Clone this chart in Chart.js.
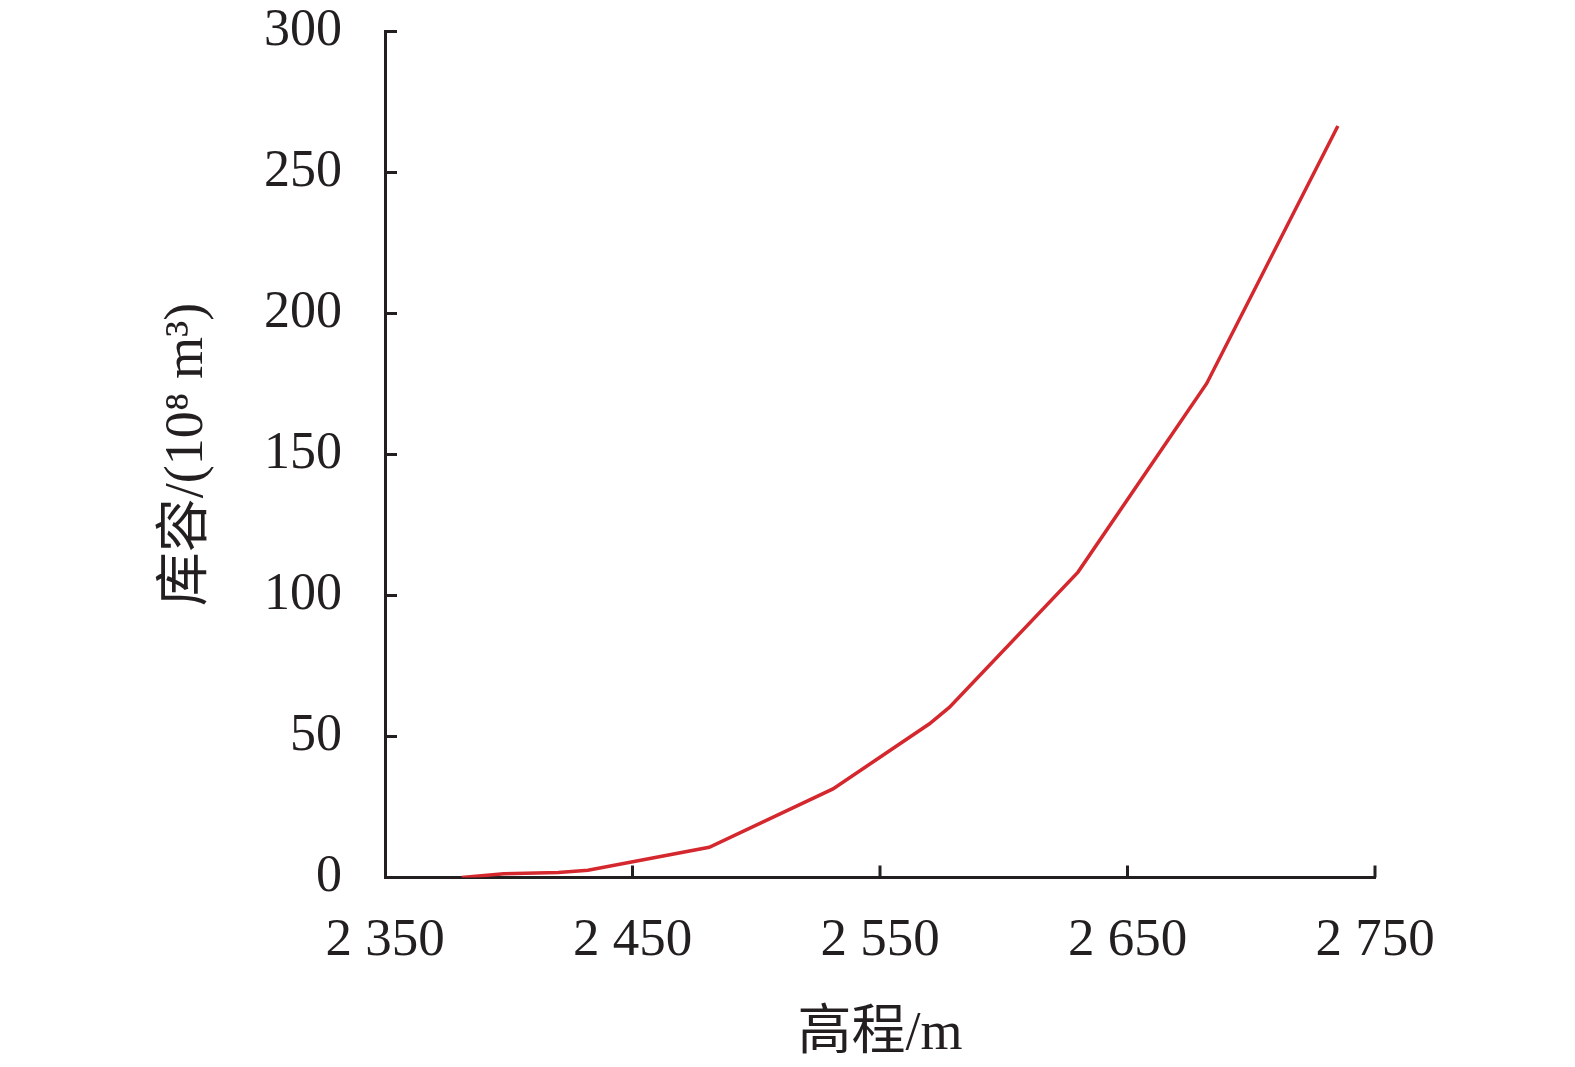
<!DOCTYPE html>
<html lang="zh-CN">
<head>
    <meta charset="UTF-8">
    <title>库容曲线</title>
    <script src="https://cdn.jsdelivr.net/npm/chart.js"></script>
    <style>
        html, body { margin: 0; padding: 0; background: #fff; }
        canvas { display: block; }
    </style>
</head>
<body>
<canvas id="myChart" width="1575" height="1067"></canvas>

<script>
    // 数据：高程 (m) 与 库容 (10^8 m3)
    const elevations = [2381, 2398, 2420, 2432, 2481, 2531, 2570, 2578, 2630, 2682, 2735];
    const capacities = [0, 1.3, 1.8, 2.6, 10.7, 31.4, 54.5, 60.3, 108.3, 175.2, 266.5];

    const xTicks = [2350, 2450, 2550, 2650, 2750];
    const yTicks = [0, 50, 100, 150, 200, 250, 300];

    const xTitle = '高程/m';
    const yTitle = '库容/(10⁸ m³)';

    const inkColor = '#231f20';
    const fontFamily = '"Liberation Serif", "Times New Roman", "Noto Sans CJK SC", serif';

    // 刻度朝内
    const innerTicks = {
        id: 'innerTicks',
        afterDraw(chart) {
            const { ctx, chartArea, scales } = chart;
            ctx.save();
            ctx.strokeStyle = inkColor;
            ctx.lineWidth = 3;
            scales.x.ticks.forEach(t => {
                if (t.value === scales.x.min) return;
                const px = scales.x.getPixelForValue(t.value);
                ctx.beginPath();
                ctx.moveTo(px, chartArea.bottom);
                ctx.lineTo(px, chartArea.bottom - 12);
                ctx.stroke();
            });
            scales.y.ticks.forEach(t => {
                if (t.value === scales.y.min) return;
                const py = scales.y.getPixelForValue(t.value);
                ctx.beginPath();
                ctx.moveTo(chartArea.left, py);
                ctx.lineTo(chartArea.left + 12, py);
                ctx.stroke();
            });
            ctx.restore();
        }
    };

    const points = elevations.map((e, i) => ({ x: e, y: capacities[i] }));

    new Chart(document.getElementById('myChart').getContext('2d'), {
        type: 'line',
        data: {
            datasets: [{
                data: points,
                borderColor: '#d4282e',
                borderWidth: 3.5,
                pointRadius: 0,
                tension: 0,
                fill: false
            }]
        },
        options: {
            responsive: false,
            animation: false,
            layout: { autoPadding: false, padding: { top: 31.5, right: 200, bottom: 0, left: 0 } },
            plugins: { legend: { display: false }, tooltip: { enabled: false } },
            scales: {
                x: {
                    type: 'linear',
                    min: 2350,
                    max: 2750,
                    afterBuildTicks: s => { s.ticks = xTicks.map(v => ({ value: v })); },
                    afterFit: s => { s.height = 189.5; s.paddingLeft = 0; s.paddingRight = 0; },
                    grid: { display: true, drawOnChartArea: false, drawTicks: false },
                    border: { display: true, color: inkColor, width: 3 },
                    ticks: {
                        padding: 32,
                        color: inkColor,
                        font: { family: fontFamily, size: 53 },
                        callback: v => String(v).replace(/\B(?=(\d{3})+(?!\d))/g, ' ')
                    },
                    title: {
                        display: true,
                        text: xTitle,
                        color: inkColor,
                        font: { family: fontFamily, size: 54, lineHeight: 1 },
                        padding: { top: 0, bottom: 5 }
                    }
                },
                y: {
                    min: 0,
                    max: 300,
                    afterBuildTicks: s => { s.ticks = yTicks.map(v => ({ value: v })); },
                    afterFit: s => { s.width = 385; s.paddingTop = 0; s.paddingBottom = 0; },
                    grid: { display: true, drawOnChartArea: false, drawTicks: false },
                    border: { display: true, color: inkColor, width: 3 },
                    ticks: {
                        padding: 43,
                        color: inkColor,
                        font: { family: fontFamily, size: 52 }
                    },
                    title: {
                        display: true,
                        text: yTitle,
                        color: inkColor,
                        font: { family: fontFamily, size: 54, lineHeight: 1 },
                        padding: { top: 161, bottom: 0 }
                    }
                }
            }
        },
        plugins: [innerTicks]
    });
</script>
</body>
</html>
